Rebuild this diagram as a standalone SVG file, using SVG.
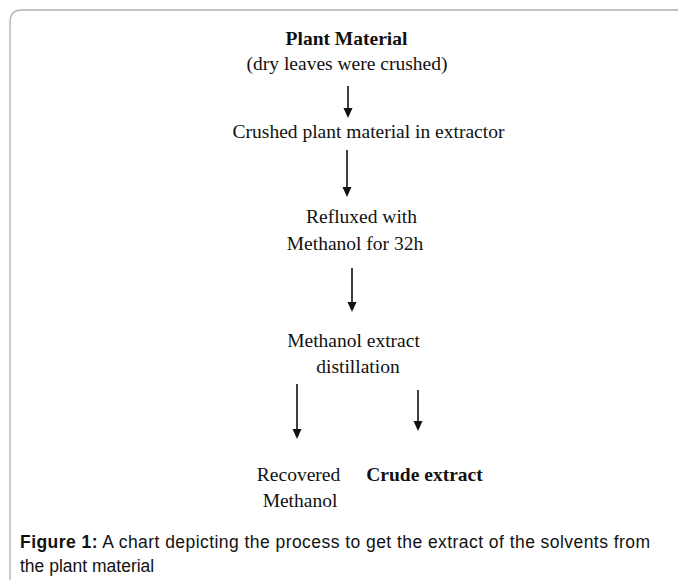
<svg xmlns="http://www.w3.org/2000/svg" width="678" height="580" viewBox="0 0 678 580">
<style>
.t{font-family:"Liberation Serif","Times New Roman",serif;font-size:19.5px;fill:#111;text-anchor:middle}
.b{font-weight:bold}
.cap{font-family:"Liberation Sans",Arial,sans-serif;font-size:17.5px;fill:#111}
.c{stroke:#111;stroke-width:1.6;fill:none}
.h{fill:#111}
</style>
<rect width="678" height="580" fill="#fff"/>
<path d="M10,580 L10,22 Q10,10 22,10 L678,10" fill="none" stroke="#b0b0b0" stroke-width="1.3"/>
<g id="n1"><text class="t b" x="346.5" y="45">Plant Material</text><text class="t" x="347" y="70">(dry leaves were crushed)</text></g>
<g id="n2"><text class="t" x="368.5" y="138">Crushed plant material in extractor</text></g>
<g id="n3"><text class="t" x="361.5" y="223">Refluxed with</text><text class="t" x="355" y="250">Methanol for 32h</text></g>
<g id="n4"><text class="t" x="353.5" y="347">Methanol extract</text><text class="t" x="358" y="373">distillation</text></g>
<g id="n5"><text class="t" x="298.5" y="481">Recovered</text><text class="t" x="300" y="507">Methanol</text></g>
<g id="n6"><text class="t b" x="424.5" y="481">Crude extract</text></g>
<g id="connectors">
<path d="M348,86 V112" class="c"/>
<path d="M348,118 l-4.5,-10 h9 z" class="h"/>
<path d="M347,150 V190" class="c"/>
<path d="M347,197 l-4.5,-10 h9 z" class="h"/>
<path d="M352,268 V305" class="c"/>
<path d="M352,312 l-4.5,-10 h9 z" class="h"/>
<path d="M297,384 V432" class="c"/>
<path d="M297,439 l-4.5,-10 h9 z" class="h"/>
<path d="M418,390 V424" class="c"/>
<path d="M418,431 l-4.5,-10 h9 z" class="h"/>
</g>
<g id="caption"><text class="cap" x="20" y="548" textLength="630" lengthAdjust="spacing"><tspan font-weight="bold">Figure 1:</tspan> A chart depicting the process to get the extract of the solvents from</text><text class="cap" x="20" y="572">the plant material</text></g>
</svg>
